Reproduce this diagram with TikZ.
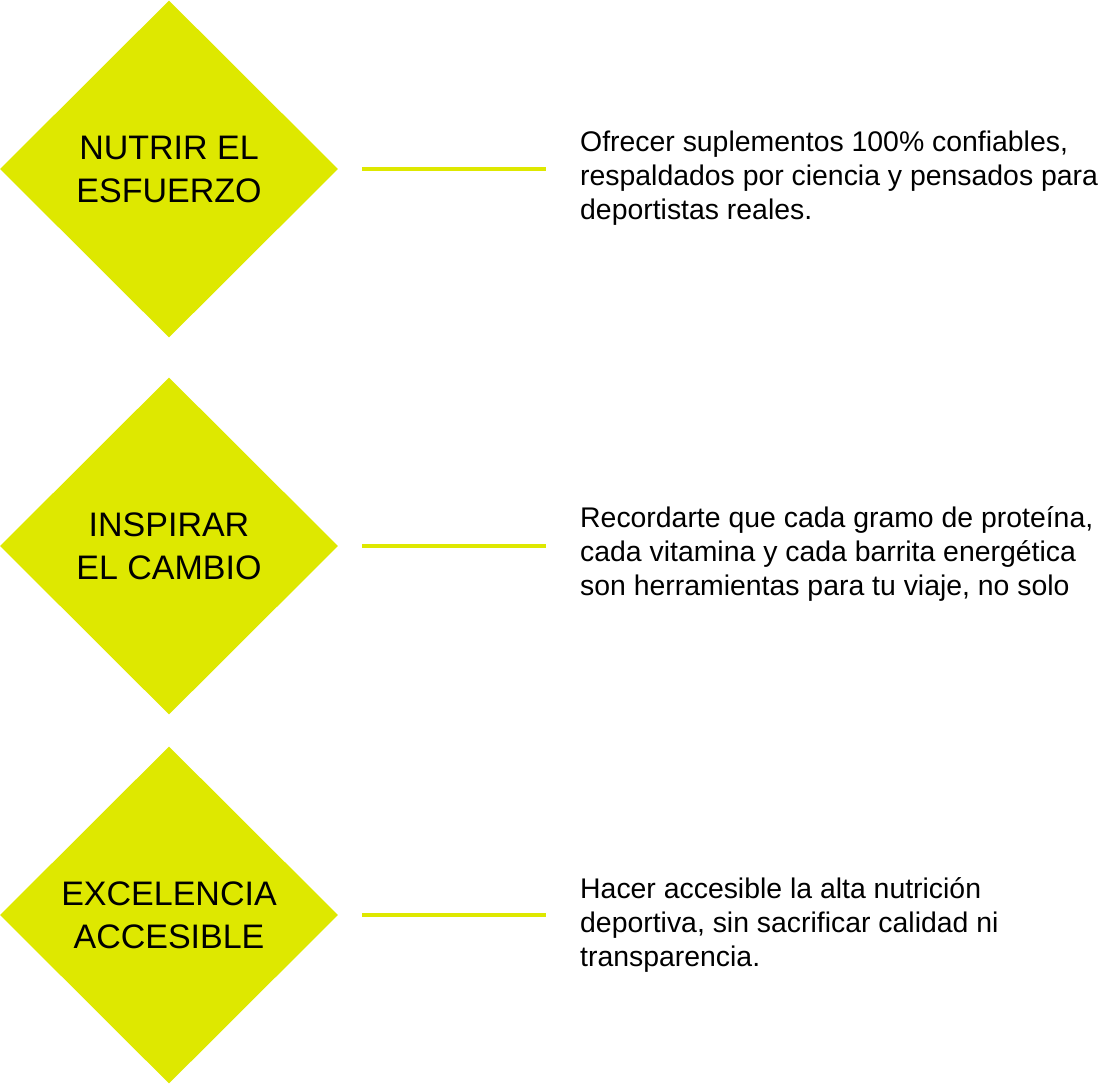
\documentclass[tikz,border=0pt]{standalone}
\usepackage{fontspec}
\setmainfont{Liberation Sans}
\usetikzlibrary{shapes.geometric}
\definecolor{lima}{HTML}{DEE800}
\begin{document}
\begin{tikzpicture}[x=1pt,y=-1pt,
    rombo/.style={diamond,fill=lima,minimum width=338pt,minimum height=337pt,inner sep=0pt,align=center,font=\fontsize{34}{43}\selectfont},
    texto/.style={anchor=base west,inner sep=0pt,align=left,font=\fontsize{28.4}{34}\selectfont},
    linea/.style={draw=lima,line width=3.5pt}]
                \useasboundingbox (0,0) rectangle (1106,1085);
                \node[rombo] (A) at (169,169) {NUTRIR EL\\ESFUERZO};
                \node[rombo] (B) at (169,546) {INSPIRAR\\EL CAMBIO};
                \node[rombo] (C) at (169,915) {EXCELENCIA\\ACCESIBLE};
                \node[texto] (D) at (580,219) {Ofrecer suplementos 100\% confiables,\\respaldados por ciencia y pensados para\\deportistas reales.};
                \node[texto] (E) at (580,595) {Recordarte que cada gramo de proteína,\\cada vitamina y cada barrita energética\\son herramientas para tu viaje, no solo};
                \node[texto] (F) at (580,966) {Hacer accesible la alta nutrición\\deportiva, sin sacrificar calidad ni\\transparencia.};
                \draw [linea] ([xshift=24pt]A.east) -- ([xshift=-34pt]A.east -| D.west);
                \draw [linea] ([xshift=24pt]B.east) -- ([xshift=-34pt]B.east -| E.west);
                \draw [linea] ([xshift=24pt]C.east) -- ([xshift=-34pt]C.east -| F.west);
            \end{tikzpicture}
\end{document}
